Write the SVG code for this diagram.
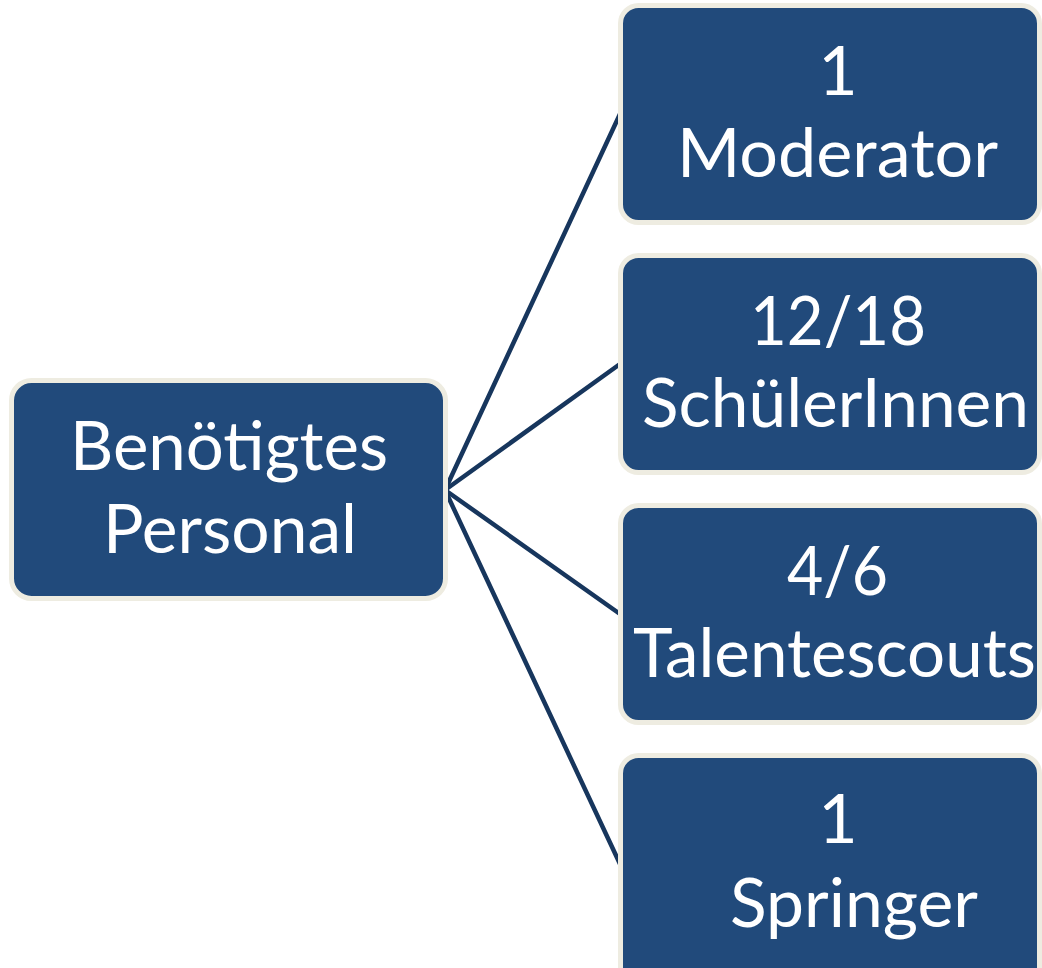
<svg xmlns="http://www.w3.org/2000/svg" width="1042" height="968" viewBox="0 0 1042 968">
<style>
.box{fill:#214A7B;stroke:#EEECE1;stroke-width:5}
.lbl{font-family:Lato,"Liberation Sans",sans-serif;font-size:68px;fill:#FFFFFF}
.c{text-anchor:middle}
.conn{stroke:#17365D;stroke-width:4.5;fill:none;stroke-linecap:round}
</style>
<rect width="1042" height="968" fill="#FFFFFF"/>
<g id="connectors">
<line class="conn" x1="445" y1="490" x2="620" y2="114"/>
<line class="conn" x1="445" y1="490" x2="620" y2="364"/>
<line class="conn" x1="445" y1="490" x2="620" y2="614"/>
<line class="conn" x1="445" y1="490" x2="620" y2="864"/>
</g>
<g id="node-root">
<rect class="box" x="11.5" y="380.5" width="434" height="218" rx="20"/>
<text class="lbl" x="70" y="470" textLength="318" lengthAdjust="spacingAndGlyphs">Benötigtes</text>
<text class="lbl" x="103" y="553" textLength="254" lengthAdjust="spacingAndGlyphs">Personal</text>
</g>
<g id="node-moderator">
<rect class="box" x="620.5" y="5.5" width="419" height="217" rx="18"/>
<text class="lbl c" x="838" y="95">1</text>
<text class="lbl" x="677" y="177" textLength="321" lengthAdjust="spacingAndGlyphs">Moderator</text>
</g>
<g id="node-schueler">
<rect class="box" x="620.5" y="255.5" width="419" height="217" rx="18"/>
<text class="lbl" x="750" y="345" textLength="176" lengthAdjust="spacingAndGlyphs">12/18</text>
<text class="lbl" x="642" y="427" textLength="387" lengthAdjust="spacingAndGlyphs">SchülerInnen</text>
</g>
<g id="node-talentescouts">
<rect class="box" x="620.5" y="505.5" width="419" height="217" rx="18"/>
<text class="lbl" x="787" y="595" textLength="101" lengthAdjust="spacingAndGlyphs">4/6</text>
<text class="lbl" x="633" y="677" textLength="403" lengthAdjust="spacingAndGlyphs">Talentescouts</text>
</g>
<g id="node-springer">
<rect class="box" x="620.5" y="755.5" width="419" height="230" rx="18"/>
<text class="lbl c" x="838" y="843">1</text>
<text class="lbl" x="730" y="927" textLength="248" lengthAdjust="spacingAndGlyphs">Springer</text>
</g>
</svg>
